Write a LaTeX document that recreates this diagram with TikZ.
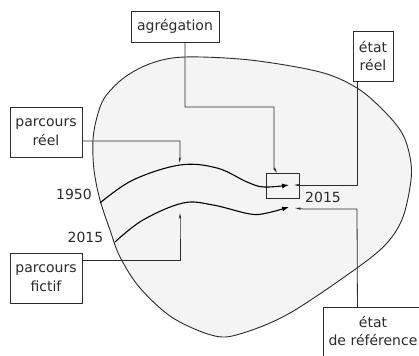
\documentclass[tikz,border=0pt]{standalone}
\usepackage{fontspec}
\setmainfont{DejaVu Sans}
\usetikzlibrary{arrows.meta}
\definecolor{ink}{HTML}{2B2B2B}
\definecolor{blobfill}{HTML}{F4F4F4}

\begin{document}
\begin{tikzpicture}[x=1pt, y=-1pt,
      every node/.style={font=\fontsize{14}{18.5}\selectfont, text=ink},
      box/.style={draw=ink, line width=0.9pt, fill=white, align=center, inner sep=0pt},
      link/.style={draw=ink, line width=0.8pt, -{Stealth[length=6pt,width=2.4pt]}},
      route/.style={draw=black, line width=1.1pt, -{Latex[length=7pt,width=5pt]}}]
    \useasboundingbox (0,0) rectangle (419,355);
    \fill[white] (0,0) rectangle (419,355);
    % espace des etats
    \draw[ink, line width=0.9pt, fill=blobfill] plot[smooth cycle, tension=0.55] coordinates {
      (185,57) (250,60) (320,72) (357,88) (383,110) (402,133) (410,157)
      (411,180) (403,217) (387,243) (357,268) (290,313) (243,333) (215,336)
      (173,318) (140,288) (120,257) (110,230) (100,200) (94,170) (93,140)
      (97,117) (105,97) (125,77) (152,63)};
    % boites
    \node[box, minimum width=88pt, minimum height=31pt] (agr) at (175,26.5) {agrégation};
    \node[box, minimum width=40pt, minimum height=50pt] (reel) at (373,56) {état\\réel};
    \node[box, minimum width=72pt, minimum height=50pt] (preel) at (46,132) {parcours\\réel};
    \node[box, minimum width=72pt, minimum height=50pt] (pfict) at (46,278) {parcours\\fictif};
    \node[box, minimum width=110pt, minimum height=60pt, anchor=north west] (refbox) at (323,307) {};
    \node[align=center] (reftxt) at (373,331) {état\\de référence};
    \node[draw=ink, line width=0.9pt, minimum width=33pt, minimum height=25pt, inner sep=0pt] (agg) at (282.5,185.5) {};
    % dates
    \node (d1950) at (74,194.5) {1950};
    \node (d2015a) at (85.5,237.5) {2015};
    \node (d2015b) at (323,197) {2015};
    % parcours
    \draw[route] plot[smooth, tension=0.6] coordinates {(100,203) (133,180) (180,165) (217,168) (247,182) (264,187) (289,185)};
    \draw[route] plot[smooth, tension=0.6] coordinates {(115,242) (143,220) (183,203) (213,205) (250,214) (267,213) (289,207)};
    % renvois
    \coordinate (agtip) at (277,173);
    \coordinate (rltip) at (294,185);
    \coordinate (prtip) at (179,163);
    \coordinate (pftip) at (180,213);
    \coordinate (rftip) at (295,208);
    \draw[link] ([xshift=10pt]agr.south) |- (274,107) -- (274,168) -- (agtip);
    \draw[link] ([xshift=-16pt]reel.south) -- (357,185) -- (rltip);
    \draw[link] ([yshift=-9pt]preel.east) -| (180,158) -- (prtip);
    \draw[link] ([yshift=18pt]pfict.east) -| (180,218) -- (pftip);
    \draw[link] ([xshift=-21pt]refbox.north) -- (357,209) -- (303,209) -- (rftip);
\end{tikzpicture}
\end{document}
